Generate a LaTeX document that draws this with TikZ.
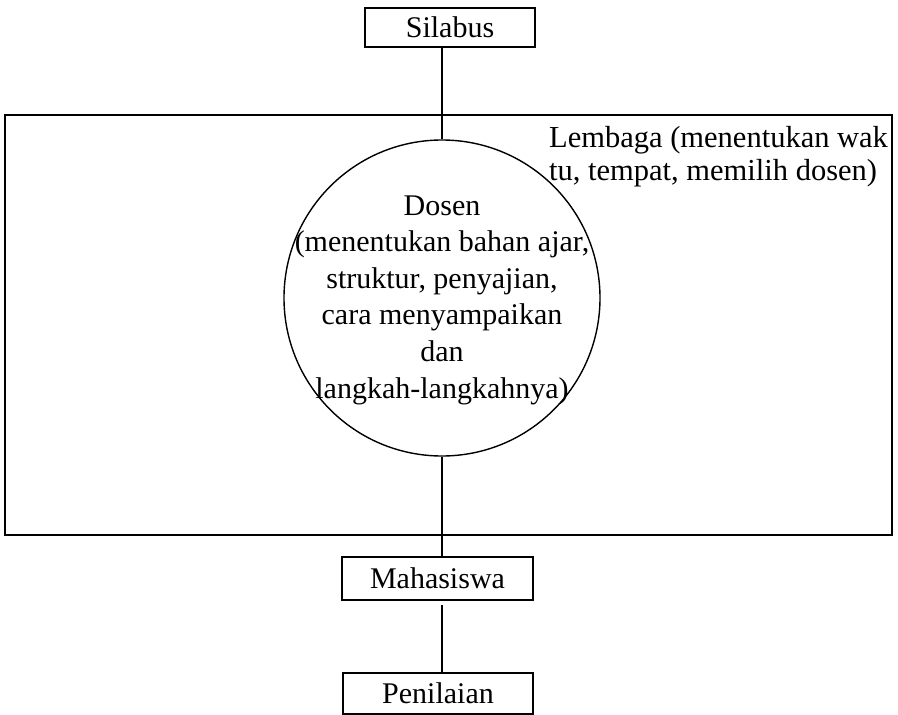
\documentclass[tikz,border=0pt]{standalone}
\usepackage{fontspec}
\setmainfont{Liberation Serif}
\begin{document}
\begin{tikzpicture}[x=1pt,y=-1pt,
  txt/.style={font=\fontsize{30}{36.6}\selectfont},
  boxnode/.style={draw,line width=2.2pt,rectangle,inner sep=0pt,txt},
  conn/.style={line width=1.8pt}]
\useasboundingbox (0,0) rectangle (898,715);
\node[draw,line width=2pt,rectangle,minimum width=887pt,minimum height=420pt,inner sep=0pt] (lembaga) at (448.5,325) {};
\node[boxnode,minimum width=170pt,minimum height=39pt] (silabus) at (450,27.5) {Silabus};
\node[draw,circle,line width=1.4pt,minimum size=316pt,inner sep=0pt] (circ) at (442,298) {};
\node[txt,align=center,inner sep=0pt] (dosen) at (442,300)
  {Dosen\\(menentukan bahan ajar,\\struktur, penyajian,\\cara menyampaikan\\dan\\langkah-langkahnya)};
\node[boxnode,minimum width=191pt,minimum height=43pt] (maha) at (437.5,578.5) {Mahasiswa};
\node[boxnode,minimum width=190pt,minimum height=41pt] (pen) at (438,693.5) {Penilaian};
\node[font=\fontsize{30.5}{33}\selectfont,anchor=north west,align=left,inner sep=0pt] (lemtext) at (549,126)
  {Lembaga (menentukan wak\\tu, tempat, memilih dosen)};
\draw[conn] (circ.north) -- (circ.north |- silabus.south);
\draw[conn] (circ.south) -- (circ.south |- maha.north);
\draw[conn,shorten <=4pt] (circ.south |- maha.south) -- (circ.south |- pen.north);
\end{tikzpicture}
\end{document}
